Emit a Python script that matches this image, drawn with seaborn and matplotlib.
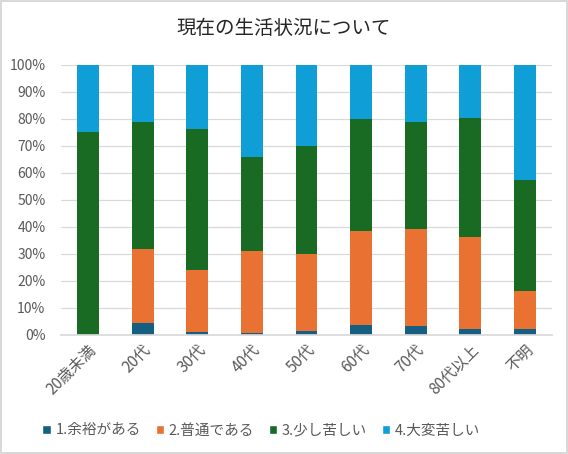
import pandas as pd
import matplotlib.pyplot as plt
import seaborn as sns
from matplotlib.patches import Patch

# Chart data (percent)
categories = ["20歳未満", "20代", "30代", "40代", "50代", "60代", "70代", "80代以上", "不明"]
series_names = ["1.余裕がある", "2.普通である", "3.少し苦しい", "4.大変苦しい"]
yoyu = [0, 4.2, 0.9, 0.6, 1.5, 3.7, 3.2, 1.9, 1.9]
futsu = [0, 27.7, 22.9, 30.3, 28.3, 34.6, 35.9, 34.4, 14.4]
sukoshi = [75.0, 46.9, 52.3, 35.0, 40.0, 41.5, 39.9, 44.1, 41.0]
taihen = [25.0, 21.2, 23.9, 34.1, 30.2, 20.2, 21.0, 19.6, 42.7]

colors = ["#156082", "#E97132", "#196B24", "#0F9ED5"]

df = pd.DataFrame({
    "cat": categories,
    series_names[0]: yoyu,
    series_names[1]: futsu,
    series_names[2]: sukoshi,
    series_names[3]: taihen,
})

sns.set_theme(style="white")
plt.rcParams["font.family"] = ["Noto Sans CJK JP", "DejaVu Sans"]

fig = plt.figure(figsize=(5.68, 4.54), dpi=100)
fig.patch.set_edgecolor("#d9d9d9")
fig.patch.set_linewidth(1.5)
ax = fig.add_axes([0.107, 0.263, 0.865, 0.594])

# stacked bars: draw cumulative totals from the top series down
cum = df[series_names].cumsum(axis=1) / 100
for name, col in reversed(list(zip(series_names, colors))):
    sns.barplot(x=df["cat"], y=cum[name], color=col, width=0.4, ax=ax,
                saturation=1, linewidth=0)

ax.set_ylim(0, 1)
ax.set_xlim(-0.5, len(categories) - 0.5)
ax.set_yticks([i / 10 for i in range(11)])
ax.set_yticklabels([f"{i * 10}%" for i in range(11)], fontsize=10, color="#595959")
ax.set_xticks(range(len(categories)))
ax.set_xticklabels(categories, rotation=45, ha="right", rotation_mode="anchor",
                   fontsize=11, color="#595959")
ax.tick_params(axis="y", length=0, pad=11)
ax.tick_params(axis="x", length=0, pad=5)
ax.yaxis.grid(True, color="#d9d9d9", linewidth=0.9)
ax.set_axisbelow(True)
for s in ["top", "right", "left"]:
    ax.spines[s].set_visible(False)
ax.spines["bottom"].set_color("#d9d9d9")
ax.set_xlabel("")
ax.set_ylabel("")

fig.text(0.5, 0.937, "現在の生活状況について", ha="center", va="center",
         fontsize=14, color="#262626")

handles = [Patch(facecolor=c, label=n) for n, c in zip(series_names, colors)]
fig.legend(handles=handles, loc="center", bbox_to_anchor=(0.46, 0.052), ncol=4,
           frameon=False, fontsize=10.5, handlelength=0.6, handleheight=0.6,
           handletextpad=0.3, columnspacing=1.0, labelcolor="#595959")

fig.savefig("out.png", dpi=100)
